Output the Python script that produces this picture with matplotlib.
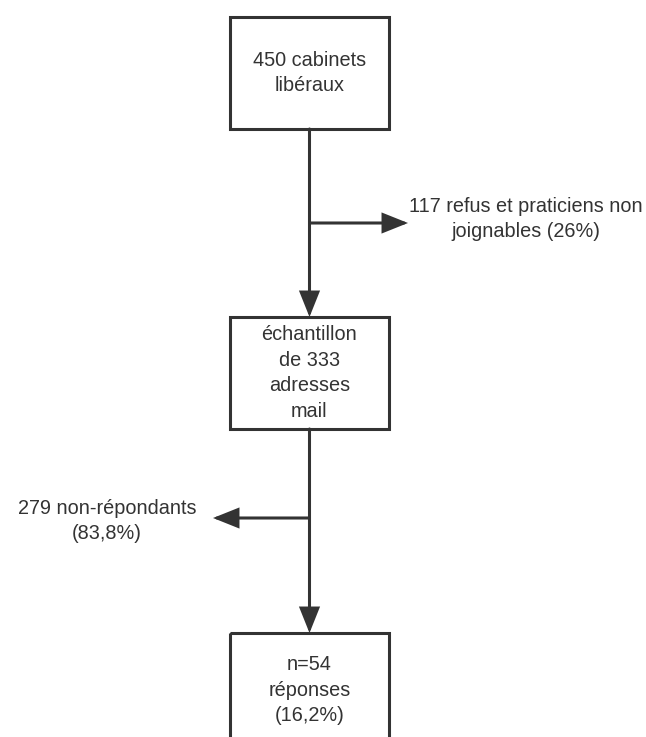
import matplotlib.pyplot as plt
from matplotlib.patches import Rectangle

plt.rcParams['font.family'] = ['Liberation Sans', 'DejaVu Sans']

# flowchart content
box_labels = ["450 cabinets\nlibéraux",
              "échantillon\nde 333\nadresses\nmail",
              "n=54\nréponses\n(16,2%)"]
side_labels = ["117 refus et praticiens non\njoignables (26%)",
               "279 non-répondants\n(83,8%)"]

# layout in pixels (y goes down)
box_x0, box_x1 = 230, 389
box_tops = [17, 317, 633]
box_bottoms = [129, 429, 760]
cx = 309.5
branch_y = [223, 518]
branch_tip = [408, 213]
side_text_xy = [(526, 219), (107, 521)]

col = '#333333'
lw = 2.2
fs = 14.3

fig = plt.figure(figsize=(6.46, 7.37), dpi=100)
ax = fig.add_axes([0, 0, 1, 1])
ax.set_xlim(0, 646)
ax.set_ylim(737, 0)
ax.axis('off')

for lab, top, bot in zip(box_labels, box_tops, box_bottoms):
    ax.add_patch(Rectangle((box_x0, top), box_x1 - box_x0, bot - top,
                           fill=False, ec=col, lw=lw, joinstyle='miter'))
    yc = (top + bot) / 2
    if bot > 737:
        yc = top + 57
    ax.text(cx, yc, lab, ha='center', va='center', fontsize=fs,
            color=col, linespacing=1.45)

arrow_style = '-|>,head_length=0.75,head_width=0.3'
props = dict(arrowstyle=arrow_style, color=col, lw=lw, mutation_scale=20,
             shrinkA=0, shrinkB=0, joinstyle='miter')
# vertical arrows between boxes
for i in range(2):
    ax.annotate('', xy=(cx, box_tops[i + 1]), xytext=(cx, box_bottoms[i]),
                arrowprops=props)

# side branches
for by, tip, lab, (tx, ty) in zip(branch_y, branch_tip, side_labels, side_text_xy):
    ax.annotate('', xy=(tip, by), xytext=(cx, by), arrowprops=props)
    ax.text(tx, ty, lab, ha='center', va='center', fontsize=fs,
            color=col, linespacing=1.45)

fig.savefig('out.png', dpi=100)
